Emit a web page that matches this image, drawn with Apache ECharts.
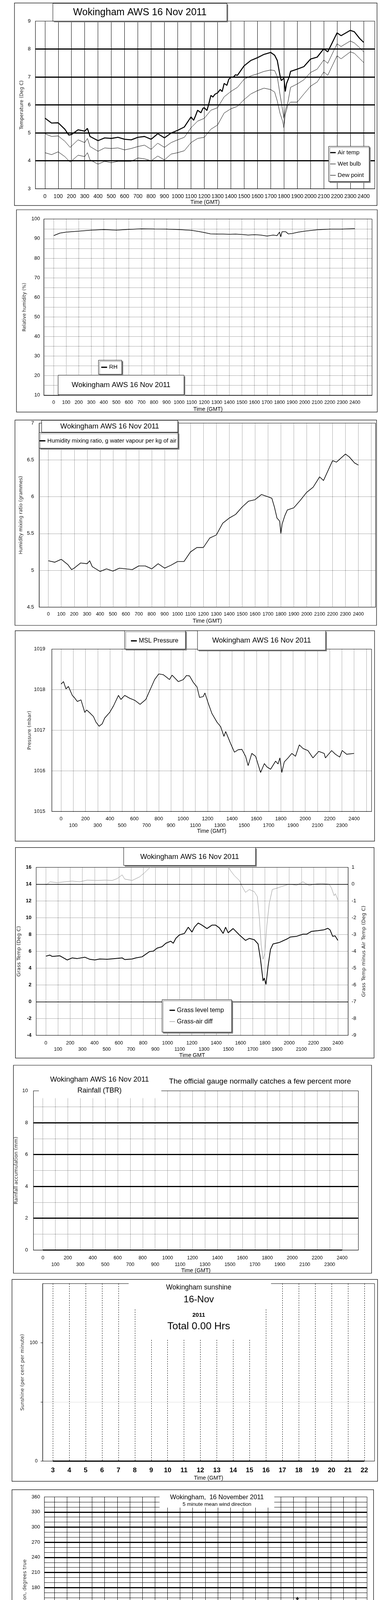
<!DOCTYPE html>
<html><head><meta charset="utf-8">
<script src="https://cdn.jsdelivr.net/npm/echarts@6/dist/echarts.min.js"></script>
<style>html,body{margin:0;padding:0;background:#fff}#a{position:absolute;left:0;top:0;width:1000px;height:2720px}#b{position:absolute;left:0;top:2720px;width:1000px;height:2280px}</style>
</head><body><div id="a"></div><div id="b"></div>
<script>
// ---------------- DATA ----------------
const timeTicks = [0,100,200,300,400,500,600,700,800,900,1000,1100,1200,1300,1400,1500,1600,1700,1800,1900,2000,2100,2200,2300,2400];
const timeTicks2500 = [0,100,200,300,400,500,600,700,800,900,1000,1100,1200,1300,1400,1500,1600,1700,1800,1900,2000,2100,2200,2300,2400,2500];
const sunHourTicks = [3,4,5,6,7,8,9,10,11,12,13,14,15,16,17,18,19,20,21,22];
const dayHourTicks = [0,1,2,3,4,5,6,7,8,9,10,11,12,13,14,15,16,17,18,19,20,21,22,23,24];
const speedHourLabels = ['00:00','01:00','02:00','03:00','04:00','05:00','06:00','07:00','08:00','09:00','10:00','11:00','12:00','13:00','14:00','15:00','16:00','17:00','18:00','19:00','20:00','21:00','22:00','23:00'];

const airTemp = [[0,5.53],[50,5.35],[100,5.36],[150,5.13],[180,4.92],[200,4.94],[250,5.11],[300,5.06],[320,5.16],[340,4.87],[400,4.72],[450,4.82],[500,4.80],[550,4.84],[600,4.77],[650,4.75],[700,4.84],[750,4.87],[800,4.77],[850,4.97],[900,4.82],[950,4.99],[1000,5.09],[1050,5.21],[1100,5.57],[1120,5.45],[1135,5.62],[1150,5.81],[1175,5.72],[1190,5.88],[1200,5.90],[1220,5.80],[1235,6.05],[1250,6.34],[1265,6.28],[1280,6.38],[1300,6.43],[1320,6.55],[1335,6.48],[1350,6.77],[1370,6.70],[1385,6.92],[1400,6.99],[1420,7.00],[1435,7.08],[1450,7.06],[1500,7.40],[1550,7.59],[1600,7.69],[1650,7.81],[1700,7.88],[1730,7.78],[1750,7.59],[1770,7.06],[1780,6.87],[1800,6.96],[1810,6.48],[1820,6.77],[1840,7.01],[1850,7.20],[1900,7.28],[1950,7.37],[2000,7.64],[2050,7.71],[2100,8.01],[2130,7.90],[2200,8.58],[2230,8.48],[2300,8.67],[2330,8.62],[2370,8.38],[2400,8.24]];
const wetBulb = [[0,4.97],[50,4.87],[100,4.89],[150,4.70],[190,4.48],[250,4.75],[300,4.65],[320,4.80],[340,4.51],[400,4.34],[450,4.46],[500,4.44],[550,4.46],[600,4.39],[650,4.44],[700,4.51],[750,4.56],[800,4.41],[850,4.63],[900,4.48],[950,4.65],[1000,4.75],[1050,4.84],[1100,5.18],[1150,5.42],[1200,5.52],[1250,5.81],[1300,5.90],[1350,6.29],[1400,6.48],[1450,6.63],[1500,6.92],[1550,7.04],[1600,7.11],[1650,7.20],[1700,7.25],[1730,7.23],[1750,7.01],[1770,6.39],[1790,5.81],[1800,5.52],[1810,5.81],[1830,6.10],[1850,6.63],[1900,6.75],[1950,6.90],[2000,7.16],[2050,7.28],[2100,7.61],[2130,7.49],[2200,8.19],[2230,8.09],[2300,8.29],[2330,8.22],[2370,8.05],[2400,7.90]];
const dewPoint = [[0,4.29],[50,4.22],[100,4.32],[150,4.15],[190,3.95],[250,4.20],[300,4.15],[320,4.29],[340,4.03],[400,3.88],[450,3.98],[500,3.93],[550,3.98],[600,3.98],[650,3.98],[700,4.10],[750,4.07],[800,4.00],[850,4.17],[900,4.03],[950,4.24],[1000,4.29],[1050,4.36],[1100,4.65],[1150,4.80],[1200,4.84],[1250,5.13],[1300,5.28],[1350,5.71],[1400,5.86],[1450,5.95],[1500,6.19],[1550,6.39],[1600,6.51],[1650,6.60],[1700,6.55],[1730,6.46],[1750,6.14],[1770,5.71],[1790,5.42],[1800,5.18],[1810,5.66],[1830,6.00],[1850,6.10],[1900,6.10],[1950,6.39],[2000,6.67],[2050,6.82],[2100,7.18],[2130,7.06],[2200,7.76],[2230,7.65],[2300,7.90],[2330,7.85],[2370,7.66],[2400,7.52]];

const relHumidity = [[0,91.5],[50,92.8],[100,93.3],[200,93.8],[300,94.3],[400,94.6],[500,94.3],[600,94.7],[700,95.0],[800,94.9],[900,94.85],[1000,94.6],[1100,94.2],[1150,93.7],[1200,93.1],[1250,92.4],[1300,92.3],[1350,92.3],[1400,92.2],[1450,92.3],[1500,92.1],[1550,91.8],[1600,92.0],[1650,91.8],[1700,91.3],[1750,91.8],[1780,91.5],[1800,93.3],[1810,90.9],[1820,93.5],[1850,93.5],[1870,92.4],[1900,92.6],[1950,93.3],[2000,93.8],[2100,94.5],[2200,94.85],[2300,94.85],[2400,95.1]];

const mixingRatio = [[0,5.13],[50,5.11],[100,5.15],[150,5.08],[180,5.01],[200,5.03],[250,5.10],[300,5.09],[320,5.13],[340,5.05],[400,4.985],[450,5.02],[500,4.99],[550,5.03],[600,5.02],[650,5.01],[700,5.06],[750,5.06],[800,5.02],[850,5.09],[900,5.03],[950,5.07],[1000,5.12],[1050,5.12],[1100,5.25],[1150,5.31],[1200,5.31],[1250,5.44],[1300,5.48],[1350,5.64],[1400,5.71],[1450,5.76],[1500,5.86],[1550,5.94],[1600,5.96],[1650,6.03],[1700,6.00],[1730,5.98],[1750,5.86],[1770,5.71],[1790,5.67],[1800,5.50],[1810,5.63],[1830,5.74],[1850,5.82],[1900,5.85],[1950,5.95],[2000,6.06],[2050,6.13],[2100,6.27],[2130,6.22],[2200,6.49],[2230,6.47],[2300,6.58],[2330,6.54],[2370,6.46],[2400,6.43]];

const mslPressure = [[0,1018.14],[20,1018.2],[40,1018.02],[60,1018.08],[92,1017.86],[108,1017.81],[133,1017.71],[163,1017.75],[194,1017.44],[210,1017.5],[235,1017.43],[265,1017.34],[286,1017.2],[312,1017.1],[337,1017.16],[357,1017.3],[398,1017.44],[429,1017.6],[470,1017.86],[490,1017.76],[521,1017.86],[562,1017.79],[603,1017.74],[647,1017.64],[694,1017.76],[725,1017.97],[766,1018.25],[800,1018.39],[837,1018.37],[888,1018.25],[909,1018.36],[960,1018.2],[1001,1018.25],[1027,1018.35],[1052,1018.34],[1083,1018.18],[1113,1018.07],[1134,1017.81],[1164,1017.83],[1178,1017.92],[1205,1017.67],[1236,1017.41],[1277,1017.2],[1307,1017.09],[1334,1016.85],[1348,1016.97],[1389,1016.67],[1420,1016.46],[1450,1016.52],[1481,1016.53],[1511,1016.36],[1532,1016.13],[1562,1016.43],[1593,1016.36],[1634,1015.96],[1665,1016.18],[1685,1016.1],[1716,1016.04],[1757,1016.24],[1777,1016.17],[1792,1016.32],[1808,1015.96],[1828,1016.22],[1859,1016.32],[1890,1016.43],[1920,1016.36],[1951,1016.64],[1982,1016.55],[2022,1016.5],[2063,1016.32],[2110,1016.48],[2155,1016.43],[2165,1016.32],[2216,1016.5],[2247,1016.41],[2282,1016.34],[2302,1016.5],[2339,1016.41],[2400,1016.43]];

const grassTemp = [[0,5.42],[33,5.55],[53,5.39],[115,5.47],[176,4.97],[217,5.22],[258,5.14],[320,5.30],[361,5.05],[402,4.97],[443,5.09],[504,5.05],[566,5.14],[627,5.22],[648,5.02],[709,5.09],[740,5.22],[791,5.35],[852,5.97],[883,6.02],[914,6.38],[955,6.55],[986,6.96],[1027,7.21],[1047,6.96],[1068,7.54],[1098,7.96],[1139,8.13],[1170,8.87],[1201,8.29],[1221,8.87],[1252,9.37],[1283,9.12],[1324,8.71],[1365,9.12],[1395,9.12],[1426,8.79],[1457,8.13],[1477,8.87],[1498,8.21],[1539,8.71],[1590,7.96],[1641,7.30],[1672,7.54],[1713,7.38],[1744,6.88],[1764,5.05],[1785,2.48],[1795,2.81],[1809,2.06],[1826,4.22],[1846,6.22],[1867,6.88],[1918,7.05],[1980,7.46],[2010,7.71],[2061,7.79],[2113,8.04],[2143,8.04],[2184,8.38],[2236,8.46],[2287,8.57],[2318,8.74],[2336,8.54],[2357,7.79],[2377,7.84],[2400,7.30]];
const grassAirDiff = [[0,-0.07],[33,0.14],[94,0.09],[156,0.14],[217,0.18],[279,0.14],[340,0.24],[422,0.22],[484,0.24],[545,0.22],[586,0.33],[627,0.55],[648,0.30],[709,0.22],[770,0.43],[811,0.68],[852,0.97],[873,1.09],[950,1.5],[1100,1.8],[1300,1.6],[1420,1.3],[1498,1.05],[1518,0.80],[1549,0.51],[1590,0.22],[1621,-0.24],[1641,-0.49],[1672,-0.32],[1713,-0.45],[1738,-0.74],[1754,-1.98],[1770,-3.64],[1785,-4.47],[1799,-4.14],[1816,-2.48],[1836,-1.15],[1861,-0.32],[1898,-0.24],[1939,-0.14],[2000,0.0],[2061,-0.07],[2113,0.14],[2164,-0.09],[2205,0.0],[2266,0.05],[2328,0.0],[2348,-0.24],[2369,-0.69],[2379,-0.57],[2400,-0.94]];

const rainAccum = [[0,0],[100,0],[200,0],[300,0],[400,0],[500,0],[600,0],[700,0],[800,0],[900,0],[1000,0],[1100,0],[1200,0],[1300,0],[1400,0],[1500,0],[1600,0],[1700,0],[1800,0],[1900,0],[2000,0],[2100,0],[2200,0],[2300,0],[2400,0]];
const sunshine = [[3,0],[4,0],[5,0],[6,0],[7,0],[8,0],[9,0],[10,0],[11,0],[12,0],[13,0],[14,0],[15,0],[16,0],[17,0],[18,0],[19,0],[20,0],[21,0],[22,0]];

const windDirection = [[0.14,85],[0.24,82],[0.34,79],[0.44,85],[0.50,92],[0.54,103],[0.63,93],[0.73,92],[0.87,79],[0.93,74],[1.03,77],[1.19,78],[1.27,92],[1.35,102],[1.43,79],[1.53,74],[1.67,67],[1.83,77],[1.92,78],[2.02,77],[2.12,74],[2.22,81],[2.32,89],[2.42,106],[2.52,79],[2.58,71],[2.72,68],[2.82,66],[2.92,67],[3.06,63],[3.21,57],[3.31,66],[3.45,67],[3.61,68],[3.71,61],[3.81,70],[3.91,66],[4.01,82],[4.11,88],[4.17,110],[4.31,79],[4.40,78],[4.50,101],[4.60,118],[4.70,113],[4.80,100],[4.90,104],[5.00,107],[5.06,86],[5.16,96],[5.30,91],[5.40,131],[5.50,109],[5.60,93],[5.69,96],[5.83,104],[5.93,85],[6.03,82],[6.15,86],[6.19,70],[6.39,71],[6.49,59],[6.59,46],[6.69,41],[6.79,46],[6.88,49],[6.98,55],[7.08,56],[7.14,34],[7.26,43],[7.38,70],[7.48,70],[7.58,74],[7.68,70],[7.82,84],[7.94,61],[8.08,75],[8.17,67],[8.25,63],[8.33,56],[8.43,49],[8.53,56],[8.61,73],[8.67,39],[8.77,25],[8.83,23],[8.93,32],[9.01,53],[9.09,49],[9.17,41],[9.27,61],[9.37,68],[9.46,61],[9.56,49],[9.66,70],[9.76,71],[9.86,66],[10.0,42],[10.06,66],[10.20,79],[10.32,79],[10.40,75],[10.52,71],[10.62,59],[10.71,59],[10.79,61],[10.91,79],[10.99,109],[11.07,99],[11.15,78],[11.25,73],[11.35,68],[11.45,89],[11.51,114],[11.63,104],[11.75,104],[11.79,85],[11.85,100],[12.0,84],[12.10,95],[12.18,91],[12.26,74],[12.34,121],[12.44,113],[12.54,92],[12.64,82],[12.74,79],[12.84,99],[12.94,82],[13.04,93],[13.10,113],[13.17,95],[13.27,82],[13.39,88],[13.49,92],[13.63,89],[13.73,77],[13.85,73],[13.97,64],[14.05,79],[14.17,77],[14.27,82],[14.37,74],[14.48,95],[14.62,85],[14.72,111],[14.78,82],[14.88,81],[15.02,95],[15.12,75],[15.22,78],[15.32,102],[15.42,117],[15.52,102],[15.62,118],[15.67,92],[15.77,106],[15.87,88],[16.01,86],[16.11,78],[16.21,79],[16.31,84],[16.41,89],[16.51,104],[16.61,104],[16.71,110],[16.81,95],[16.90,92],[17.00,93],[17.10,77],[17.20,71],[17.30,77],[17.36,111],[17.46,104],[17.54,96],[17.66,95],[17.74,85],[17.84,114],[17.90,86],[18.04,96],[18.13,109],[18.23,102],[18.33,115],[18.45,113],[18.59,110],[18.69,124],[18.79,115],[18.93,132],[19.01,125],[19.09,115],[19.21,122],[19.33,158],[19.44,135],[19.54,128],[19.64,122],[19.74,113],[19.84,131],[19.92,128],[20.04,113],[20.14,107],[20.28,100],[20.38,92],[20.44,113],[20.58,109],[20.67,107],[20.77,106],[20.87,97],[20.97,133],[21.07,56],[21.17,81],[21.27,96],[21.37,109],[21.47,109],[21.59,115],[21.67,124],[21.79,97],[21.87,106],[21.96,97],[22.06,66],[22.16,64],[22.26,74],[22.36,75],[22.46,61],[22.56,68],[22.66,81],[22.76,100],[22.86,92],[22.98,85],[23.06,92],[23.15,84],[23.25,92],[23.37,77],[23.45,42],[23.55,56],[23.65,7],[23.75,13],[23.85,32],[23.95,52]];

const meanSpeed = [[0.0,3.0],[0.15,5.3],[0.4,4.8],[0.5,3.8],[0.7,4.3],[0.9,5.1],[1.2,4.9],[1.5,5.3],[1.8,6.1],[2.0,4.3],[2.2,5.3],[2.4,4.8],[2.6,3.3],[2.8,4.5],[3.0,5.3],[3.2,5.1],[3.5,4.3],[3.8,3.3],[4.0,2.5],[4.3,2.2],[4.6,2.5],[5.0,3.5],[5.3,3.0],[5.6,2.7],[6.0,2.5],[6.3,3.0],[6.6,2.5],[7.0,2.2],[7.3,2.5],[7.6,3.3],[7.9,2.7],[8.1,2.0],[8.4,2.7],[8.7,3.3],[9.0,3.8],[9.3,3.3],[9.6,3.8],[10.0,3.3],[10.4,3.5],[10.8,3.8],[11.2,4.3],[11.4,2.5],[11.7,3.5],[12.0,3.8],[12.4,3.3],[12.7,4.3],[13.0,3.3],[13.3,4.0],[13.6,3.5],[14.0,4.8],[14.3,3.8],[14.6,4.5],[15.0,4.0],[15.3,5.1],[15.6,3.0],[16.0,4.0],[16.3,5.1],[16.6,3.5],[17.0,4.5],[17.3,4.3],[17.6,3.5],[18.0,4.5],[18.3,3.8],[18.6,4.8],[19.0,5.8],[19.3,5.1],[19.6,4.3],[20.0,3.5],[20.3,3.3],[20.6,2.7],[20.9,1.7],[21.0,1.2],[21.2,3.5],[21.5,3.8],[21.8,3.5],[22.0,2.5],[22.3,2.7],[22.6,2.7],[22.9,3.3],[23.2,2.5],[23.5,1.4],[23.8,2.0],[24.0,2.5]];
const maxGust = [[0.0,7.1],[0.1,10.0],[0.2,7.1],[0.35,8.7],[0.5,5.3],[0.65,8.2],[0.8,6.1],[0.95,9.2],[1.1,6.4],[1.3,9.7],[1.45,6.6],[1.6,9.5],[1.7,10.7],[1.85,7.1],[2.0,8.4],[2.1,5.8],[2.3,9.2],[2.45,5.1],[2.6,3.5],[2.75,8.9],[2.9,6.6],[3.05,8.7],[3.2,6.4],[3.35,8.2],[3.55,5.3],[3.75,4.0],[3.9,5.1],[4.05,3.5],[4.2,5.3],[4.35,3.3],[4.5,5.8],[4.65,4.0],[4.8,6.1],[4.95,6.6],[5.1,4.3],[5.25,5.8],[5.4,3.5],[5.55,5.3],[5.7,3.0],[5.85,5.1],[6.0,3.5],[6.15,5.1],[6.3,4.3],[6.45,5.3],[6.6,3.5],[6.75,5.1],[6.9,3.3],[7.05,4.3],[7.2,3.0],[7.35,5.1],[7.5,3.8],[7.65,5.3],[7.8,3.5],[7.95,2.7],[8.1,2.5],[8.25,4.3],[8.4,5.6],[8.55,3.8],[8.7,5.8],[8.85,4.3],[9.0,6.6],[9.15,4.5],[9.3,6.9],[9.45,4.8],[9.6,6.9],[9.75,4.5],[9.9,6.6],[10.05,4.3],[10.2,6.9],[10.35,4.8],[10.5,6.4],[10.65,4.5],[10.8,6.6],[10.95,5.1],[11.1,6.6],[11.25,4.8],[11.4,3.3],[11.55,5.6],[11.7,4.3],[11.85,7.1],[12.0,4.8],[12.15,6.6],[12.3,4.5],[12.45,6.1],[12.6,4.3],[12.75,6.9],[12.9,4.5],[13.05,6.4],[13.2,4.3],[13.35,6.6],[13.5,5.1],[13.65,6.4],[13.8,4.3],[13.95,6.9],[14.1,5.3],[14.25,6.6],[14.4,4.8],[14.55,6.9],[14.7,5.1],[14.85,6.4],[15.0,5.1],[15.15,6.6],[15.3,6.4],[15.45,4.3],[15.6,3.5],[15.75,5.3],[15.9,4.0],[16.05,6.4],[16.2,10.5],[16.35,6.9],[16.5,5.1],[16.65,6.4],[16.8,4.3],[16.95,6.1],[17.1,5.1],[17.25,6.9],[17.4,4.3],[17.55,5.8],[17.7,3.8],[17.85,6.4],[18.0,5.1],[18.15,6.6],[18.3,4.8],[18.45,7.1],[18.6,9.7],[18.75,7.4],[18.9,9.2],[19.05,7.1],[19.2,10.2],[19.35,6.1],[19.5,7.6],[19.65,5.1],[19.8,6.4],[19.95,4.3],[20.1,5.6],[20.25,3.5],[20.4,5.1],[20.55,3.3],[20.7,4.3],[20.85,2.5],[21.0,1.4],[21.15,5.1],[21.3,6.9],[21.45,4.3],[21.6,5.6],[21.75,3.8],[21.9,4.8],[22.05,2.0],[22.2,3.8],[22.35,5.3],[22.5,3.5],[22.65,4.5],[22.8,3.5],[22.95,4.8],[23.1,3.8],[23.25,4.3],[23.4,3.0],[23.55,1.7],[23.7,2.7],[23.85,3.0],[24.0,2.7]];
const lowSpeedX10 = [[0.00,33.5],[0.00,31.9],[0.00,32.4],[0.00,35.5],[0.08,38.5],[0.37,39.2],[0.37,37.3],[0.37,36.1],[0.37,35.0],[0.46,39.7],[0.46,38.1],[0.46,36.8],[0.56,39.9],[0.56,37.6],[0.56,36.3],[0.56,35.5],[2.45,39.9],[2.45,38.9],[2.45,37.3],[2.45,36.8],[2.55,33.7],[2.55,32.4],[2.55,30.9],[2.55,30.4],[2.55,29.3],[2.68,37.6],[2.68,32.4],[2.68,31.1],[2.68,29.1],[2.74,35.0],[3.26,39.7],[3.26,39.2],[3.26,37.6],[3.26,36.6],[3.36,35.5],[3.36,34.8],[3.36,33.2],[3.36,32.4],[3.36,29.9],[3.80,38.1],[3.80,36.3],[3.80,34.8],[3.80,32.7],[3.90,30.6],[3.90,30.1],[3.90,28.8],[3.90,27.3],[3.90,27.0],[3.90,25.7],[4.07,23.7],[4.07,23.1],[4.07,22.4],[4.07,23.9],[4.19,24.2],[4.19,22.1],[4.32,33.5],[4.32,32.4],[4.32,31.4],[4.32,30.4],[4.32,28.8],[4.32,27.8],[4.32,26.8],[4.32,24.7],[4.32,23.7],[4.52,31.9],[4.52,30.6],[4.52,29.3],[4.52,27.3],[4.52,25.7],[4.52,24.2],[4.52,23.1],[4.67,27.8],[4.67,26.8],[4.67,24.9],[4.67,23.7],[4.81,37.3],[4.81,34.5],[4.81,32.2],[4.81,29.9],[4.81,26.0],[4.81,24.7],[4.90,39.7],[4.90,38.6],[4.90,37.1],[5.10,39.2],[5.10,38.1],[5.10,36.6],[5.10,35.5],[5.10,34.0],[5.29,37.3],[5.29,36.1],[5.29,32.4],[5.29,30.4],[5.29,29.3],[5.29,27.3],[5.29,25.7],[5.29,23.7],[5.48,35.0],[5.48,33.0],[5.48,31.9],[5.48,29.6],[5.48,28.3],[5.48,26.8],[5.48,25.2],[5.64,39.2],[5.64,36.1],[5.64,33.0],[5.64,29.3],[5.64,27.3],[5.77,24.2],[5.77,23.7],[5.77,23.1],[5.97,24.4],[5.97,23.9],[5.97,25.7],[6.10,28.8],[6.10,27.8],[6.10,26.8],[6.22,28.3],[6.22,26.5],[6.22,25.2],[6.35,34.5],[6.35,33.5],[6.35,31.9],[6.35,30.4],[6.35,28.8],[6.49,29.9],[6.49,28.8],[6.49,27.8],[6.49,26.5],[6.49,24.2],[6.64,29.1],[6.64,26.0],[6.64,24.7],[6.64,23.7],[6.74,23.4],[6.74,21.6],[6.74,21.1],[6.74,19.0],[6.87,23.9],[6.87,22.6],[6.87,21.6],[7.03,24.7],[7.03,23.7],[7.03,22.1],[7.03,21.1],[7.18,25.7],[7.18,24.7],[7.32,30.4],[7.32,28.8],[7.32,27.3],[7.41,34.0],[7.41,33.0],[7.41,31.9],[7.41,34.5],[7.51,38.1],[7.51,37.6],[7.51,36.6],[7.61,38.6],[7.61,35.5],[7.61,34.5],[7.72,32.4],[7.72,30.9],[7.72,29.3],[7.72,28.3],[7.84,33.0],[7.84,31.9],[7.84,30.9],[7.95,33.2],[7.95,26.2],[7.95,24.7],[7.95,23.7],[8.09,22.1],[8.09,20.6],[8.09,19.0],[8.09,18.5],[8.19,18.0],[8.19,19.0],[8.19,21.1],[8.19,23.1],[8.30,25.2],[8.30,23.7],[8.30,27.3],[8.46,33.0],[8.46,31.9],[8.57,35.5],[8.57,37.1],[8.69,39.2],[8.69,38.6],[8.69,37.6],[8.69,36.3],[8.80,38.1],[8.80,36.6],[8.80,35.0],[8.96,36.6],[8.96,34.0],[8.96,31.9],[9.07,30.9],[9.07,29.3],[9.07,27.8],[9.07,25.2],[9.19,33.0],[9.19,30.4],[9.19,28.8],[9.34,37.6],[9.34,36.1],[9.34,34.0],[9.34,31.9],[9.50,38.1],[9.50,36.1],[9.50,33.5],[9.50,30.9],[9.50,28.8],[9.63,35.0],[9.63,32.4],[9.63,30.4],[9.63,29.3],[9.79,39.7],[9.79,38.6],[9.79,37.6],[9.92,39.2],[9.92,37.1],[9.92,35.0],[10.06,34.0],[10.06,32.4],[10.06,30.9],[10.06,29.3],[10.21,36.1],[10.21,34.0],[10.21,31.9],[10.21,30.4],[10.37,37.6],[10.37,35.0],[10.37,33.5],[10.50,37.1],[10.50,36.1],[10.50,34.5],[10.50,33.0],[10.66,36.6],[10.66,35.0],[10.79,38.1],[10.79,36.1],[10.93,39.2],[10.93,37.6],[11.08,39.9],[11.08,39.4],[11.22,39.7],[11.27,36.6],[11.27,34.5],[11.37,31.1],[11.37,29.9],[11.37,28.3],[11.37,27.3],[11.51,28.8],[11.51,26.8],[11.51,24.7],[11.51,22.6],[11.51,21.3],[11.66,30.9],[11.66,28.3],[11.66,25.5],[11.78,37.6],[11.78,36.1],[11.78,34.0],[11.78,32.4],[11.95,39.7],[11.95,38.1],[11.95,36.6],[11.95,35.0],[12.14,37.1],[12.14,35.5],[12.14,34.0],[12.28,35.0],[12.28,33.0],[12.28,31.9],[12.43,38.1],[12.43,36.6],[12.43,34.0],[12.43,32.4],[12.59,35.0],[12.59,33.5],[12.59,31.4],[12.59,30.4],[12.72,31.9],[12.72,29.9],[12.72,28.8],[12.88,39.7],[12.88,38.1],[12.88,37.1],[13.01,35.0],[13.01,33.0],[13.01,30.9],[13.01,29.3],[13.17,37.6],[13.17,36.1],[13.17,34.0],[13.32,38.6],[13.32,37.1],[13.32,35.0],[13.47,39.2],[13.47,37.6],[13.47,36.1],[13.47,33.0],[13.63,39.7],[13.63,36.6],[13.75,32.4],[13.75,30.9],[13.75,29.3],[13.88,38.6],[13.88,35.0],[14.36,39.2],[14.36,37.6],[14.36,36.1],[14.52,35.0],[14.52,33.5],[14.52,31.9],[14.67,37.1],[14.67,35.0],[14.67,34.0],[14.83,39.9],[14.83,39.2],[14.83,37.6],[14.98,36.6],[14.98,35.0],[14.98,34.0],[15.14,38.1],[15.14,36.1],[15.14,34.5],[15.29,39.2],[15.29,37.6],[15.29,36.6],[15.48,39.7],[15.48,38.6],[15.48,37.1],[15.48,36.1],[15.62,33.5],[15.62,30.4],[15.62,28.8],[15.62,27.8],[15.75,27.3],[15.75,26.5],[15.75,25.5],[15.91,30.4],[15.91,28.8],[15.91,27.8],[16.06,33.0],[16.06,31.4],[16.06,29.9],[16.22,35.5],[16.22,34.0],[16.37,33.5],[16.37,31.9],[16.37,30.4],[16.49,38.4],[16.49,36.6],[16.60,35.0],[16.60,33.5],[16.60,31.9],[16.60,28.8],[16.76,38.1],[16.76,36.1],[16.87,39.2],[16.87,39.7],[17.03,36.6],[17.03,35.0],[17.18,40.0],[17.18,38.1],[17.30,35.0],[17.30,33.0],[17.30,30.9],[17.45,34.0],[17.45,31.9],[17.61,39.2],[17.61,37.6],[17.61,35.5],[17.74,35.0],[17.74,33.0],[17.74,31.4],[17.74,29.3],[17.74,27.8],[17.90,31.9],[17.90,30.4],[18.03,38.1],[18.03,36.6],[18.19,35.0],[18.19,34.0],[18.19,33.0],[18.32,32.4],[18.32,30.9],[18.46,39.9],[18.46,37.1],[18.46,36.1],[18.61,39.7],[18.61,39.2],[18.61,35.5],[18.61,32.4],[18.61,30.6],[18.76,39.4],[18.76,37.1],[19.48,39.9],[19.48,38.9],[19.86,39.4],[19.86,35.0],[19.86,33.5],[20.00,37.6],[20.00,36.1],[20.00,34.0],[20.00,32.4],[20.15,36.1],[20.15,33.5],[20.15,31.4],[20.31,38.9],[20.31,35.5],[20.44,34.5],[20.44,32.4],[20.44,30.4],[20.44,28.8],[20.44,27.3],[20.44,25.7],[20.44,23.7],[20.64,33.0],[20.64,30.9],[20.64,28.8],[20.64,26.8],[20.77,33.5],[20.77,32.4],[20.77,30.4],[20.89,31.9],[20.89,28.8],[20.89,26.8],[20.89,25.2],[21.00,24.7],[21.00,21.6],[21.00,20.1],[21.00,18.5],[21.00,16.9],[21.12,15.4],[21.12,13.8],[21.12,12.8],[21.12,11.8],[21.12,11.0],[21.24,20.6],[21.24,18.5],[21.24,16.4],[21.24,22.1],[21.35,28.8],[21.35,27.3],[21.35,31.9],[21.47,39.2],[21.47,37.6],[21.47,35.5],[21.47,35.0],[21.60,36.1],[21.60,37.6],[21.60,37.1],[21.74,37.1],[21.74,35.0],[21.85,34.5],[21.85,33.0],[21.85,29.9],[21.99,26.2],[21.99,24.7],[21.99,23.7],[22.12,25.7],[22.12,24.2],[22.12,23.1],[22.28,25.2],[22.28,22.6],[22.28,20.6],[22.41,28.8],[22.41,27.8],[22.41,26.2],[22.57,24.2],[22.57,22.6],[22.57,21.6],[22.70,23.7],[22.70,22.1],[22.70,21.1],[22.86,32.4],[22.86,31.4],[22.86,30.4],[22.86,27.8],[22.86,24.7],[23.01,28.8],[23.01,27.3],[23.01,25.2],[23.15,28.3],[23.15,26.8],[23.15,24.7],[23.15,23.7],[23.28,22.6],[23.28,21.6],[23.28,21.1],[23.44,21.6],[23.44,17.5],[23.44,15.9],[23.59,14.4],[23.59,13.3],[23.59,12.3],[23.59,16.2],[23.73,18.0],[23.73,16.4],[23.73,15.9],[23.82,20.6],[23.82,19.5],[23.82,21.6],[23.92,24.7],[23.92,23.7],[23.92,22.6]];

// ---------------- BUILD ----------------
const F = '"Liberation Sans", Arial, Helvetica, sans-serif';
const FV = '"DejaVu Sans", Verdana, sans-serif';
const DOT = {color:'#000', width:1, type:[1,2]};
const SOLID = {color:'#000', width:1, type:'solid'};
let option, G, OFF = 0;
function newOption(off){ OFF = off; option = {animation:false, backgroundColor:'#ffffff', grid:[], xAxis:[], yAxis:[], series:[], legend:[], graphic:{elements:[]}}; G = option.graphic.elements; }
const str = v => ''+v;

function addGrid(l,t,r,b){ option.grid.push({left:l, top:t-OFF, width:r-l, height:b-t, show:true, borderColor:'#000', borderWidth:1, backgroundColor:'rgba(0,0,0,0)', containLabel:false, outerBoundsMode:'none'}); return option.grid.length-1; }
function addX(gi,min,max,o){
  option.xAxis.push({type:'value', gridIndex:gi, min:min, max:max, position:'bottom',
    axisLine:{show:true, onZero:false, lineStyle:{color:'#000',width:1}},
    axisTick:{show:false, customValues:o.ticks},
    splitLine:{show:true, showMinLine:true, showMaxLine:true, lineStyle:o.split},
    axisLabel:{show:true, customValues:o.labels, formatter:o.fmt||str, margin:o.margin, fontSize:o.fs, fontFamily:F, fontWeight:o.fw||'normal', color:'#000', lineHeight:o.lh||(o.fs+2), verticalAlign:'top', hideOverlap:false},
    name:o.name, nameLocation:'middle', nameGap:o.gap, nameMoveOverlap:false,
    nameTextStyle:{fontSize:14, fontFamily:F, color:'#000'}});
  return option.xAxis.length-1;
}
function addY(gi,min,max,o){
  option.yAxis.push({type:'value', gridIndex:gi, min:min, max:max, interval:o.interval, position:o.pos||'left',
    axisLine:{show:true, onZero:false, lineStyle:{color:'#000',width:1}},
    axisTick:o.tick||{show:false},
    splitLine:o.split?{show:true, showMinLine:false, showMaxLine:false, lineStyle:o.split}:{show:false},
    axisLabel:{show:true, customValues:o.labels, formatter:o.fmt||str, margin:o.margin, fontSize:o.fs||13, fontFamily:F, fontWeight:o.fw||'normal', color:'#000', hideOverlap:false},
    name:o.name, nameLocation:'middle', nameGap:o.gap, nameMoveOverlap:false,
    nameTextStyle:{fontSize:o.nfs||12.5, fontFamily:FV, color:'#222'}});
  return option.yAxis.length-1;
}
function line(name,xi,yi,data,w,color,extra){ option.series.push(Object.assign({type:'line', name:name, xAxisIndex:xi, yAxisIndex:yi, data:data, symbol:'none', showSymbol:false, lineStyle:{color:color, width:w}, itemStyle:{color:color}, z:3, silent:true}, extra||{})); }
function frame(x1,y1,x2,y2){ G.push({type:'rect', z:50, silent:true, shape:{x:x1,y:y1-OFF,width:x2-x1,height:y2-y1}, style:{fill:null, stroke:'#000', lineWidth:1.2}}); }
function box(x1,y1,x2,y2){ G.push({type:'rect', z:60, silent:true, shape:{x:x1+3,y:y1+3-OFF,width:x2-x1,height:y2-y1}, style:{fill:'#7f7f7f'}});
  G.push({type:'rect', z:61, silent:true, shape:{x:x1,y:y1-OFF,width:x2-x1,height:y2-y1}, style:{fill:'#fff', stroke:'#000', lineWidth:1}}); }
function white(x1,y1,x2,y2){ G.push({type:'rect', z:55, silent:true, shape:{x:x1,y:y1-OFF,width:x2-x1,height:y2-y1}, style:{fill:'#fff'}}); }
function txt(x,y,s,size,o){ o=o||{}; G.push({type:'text', z:70, silent:true, x:x, y:y-OFF, style:{text:s, fontSize:size, fontFamily:o.ff||F, fontWeight:o.fw||'normal', fill:'#000', align:o.align||'center', verticalAlign:'middle'}}); }
function legendBox(o){ o.top = o.top-OFF; option.legend.push(Object.assign({show:true, selectedMode:false, z:100, backgroundColor:'#fff', borderColor:'#000', borderWidth:1, borderRadius:0, shadowColor:'#7f7f7f', shadowBlur:0, shadowOffsetX:3, shadowOffsetY:3, inactiveColor:'#000'}, o)); }
const evenOdd = v => (Math.round(v/100)%2===1 ? '\n'+v : ''+v);
const THICK = 'path://M0,0H14V3H0Z', THIN = 'path://M0,0H14V1.2H0Z';

// ======== CHART A (panels 1-5) ========
newOption(0);
// ---- Panel 1: temperatures ----
frame(37.0,7.6,964.3,526.2);
let g = addGrid(90.6,54.1,958.5,483.1);
let xi = addX(g,-71.3,2484,{ticks:timeTicks, labels:timeTicks, split:SOLID, margin:12, fs:14, name:'Time (GMT)', gap:28});
let yi = addY(g,3,9,{interval:1, split:{color:'#000',width:3}, margin:12, fs:13, name:'Temperature (Deg C)', gap:29, nfs:12});
line('Air temp',xi,yi,airTemp,2.6,'#000');
line('Wet bulb',xi,yi,wetBulb,1,'#000');
line('Dew point',xi,yi,dewPoint,1,'#000');
box(135.2,8.6,580.4,54.1); txt(357.8,32,'Wokingham AWS 16 Nov 2011',25);
legendBox({left:840.6, top:374.7, orient:'vertical', padding:[7,14,7,4], itemGap:11, itemWidth:14, itemHeight:14, textStyle:{fontSize:15, fontFamily:F, color:'#000', lineHeight:18}, data:[{name:'Air temp',icon:THICK},{name:'Wet bulb',icon:THIN},{name:'Dew point',icon:THIN}]});

// ---- Panel 2: RH ----
frame(42.1,537,964.9,1054.8);
g = addGrid(112.2,560.7,951.5,1011.8);
xi = addX(g,-77.6,2537,{ticks:timeTicks2500, labels:timeTicks, split:DOT, margin:11, fs:12.5, name:'Time (GMT)', gap:29});
yi = addY(g,10,100,{interval:5, split:DOT, margin:10, fs:13, fmt:v=>(v%10===0?''+v:''), name:'Relative humidity (%)', gap:43, nfs:11.5});
line('RH',xi,yi,relHumidity,1.6,'#000');
box(148.6,960.5,470.7,1010.4); txt(309.6,986,'Wokingham AWS 16 Nov 2011',18.5);
legendBox({left:251.9, top:922.2, orient:'vertical', padding:[9,11,9,7], itemWidth:15, itemHeight:14, textStyle:{fontSize:15, fontFamily:F, color:'#000', lineHeight:18}, data:[{name:'RH',icon:THICK}]});

// ---- Panel 3: mixing ratio ----
frame(38.3,1075.4,963.0,1601);
g = addGrid(100.1,1083.2,960.5,1554.3);
xi = addX(g,-71.4,2533,{ticks:timeTicks2500, labels:timeTicks, split:DOT, margin:11, fs:12.5, name:'Time (GMT)', gap:29});
yi = addY(g,4.5,7,{interval:0.5, split:DOT, margin:13, fs:13, name:'Humidity mixing ratio (grammes)', gap:40, nfs:12});
line('Humidity mixing ratio, g water vapour per kg of air',xi,yi,mixingRatio,1.6,'#000');
box(106.5,1076,454.7,1106.4); txt(280.6,1091.5,'Wokingham AWS 16 Nov 2011',18.5);
legendBox({left:100.1, top:1107.5, orient:'vertical', padding:[12,4,10,1], itemWidth:15, itemHeight:14, textStyle:{fontSize:15, fontFamily:F, color:'#000', lineHeight:18}, data:[{name:'Humidity mixing ratio, g water vapour per kg of air',icon:THICK}]});

// ---- Panel 4: pressure ----
frame(38.9,1614.6,957.9,2153.3);
g = addGrid(132.7,1661.8,950.3,2077.3);
xi = addX(g,-75.3,2543,{ticks:timeTicks2500, labels:timeTicks, split:DOT, margin:11, fs:13, lh:17, fmt:evenOdd, name:'Time (GMT)', gap:44});
yi = addY(g,1015,1019,{interval:1, split:DOT, margin:17, fs:13, name:'Pressure (mbar)', gap:50, nfs:12.5});
line('MSL Pressure',xi,yi,mslPressure,1.6,'#000');
box(505.1,1614.6,832.9,1664.3); txt(669,1640,'Wokingham AWS 16 Nov 2011',18.5);
legendBox({left:318.9, top:1614.6, orient:'vertical', padding:[17,18,12,16], itemWidth:15, itemHeight:14, textStyle:{fontSize:16, fontFamily:F, color:'#000', lineHeight:18}, data:[{name:'MSL Pressure',icon:THICK}]});

// ---- Panel 5: grass temperature ----
frame(39.5,2169.6,956.6,2708.6);
g = addGrid(92.5,2220.4,890.3,2650.4);
xi = addX(g,-79.7,2484,{ticks:timeTicks, labels:timeTicks, split:DOT, margin:12, fs:12.5, lh:16, fmt:evenOdd, name:'Time GMT', gap:45});
yi = addY(g,-4,16,{interval:2, split:DOT, margin:12, fs:13, fw:'bold', name:'Grass Temp (Deg C)', gap:37, nfs:13});
let yr = addY(g,-9,1,{interval:1, pos:'right', margin:9, fs:13, name:'Grass Temp minus Air Temp (Deg C)', gap:34, nfs:13});
line('Grass level temp',xi,yi,grassTemp,2,'#000',{markLine:{silent:true, symbol:['none','none'], label:{show:false}, lineStyle:{color:'#000',width:1.5,type:'solid'}, emphasis:{disabled:true}, data:[{yAxis:14},{yAxis:0}]}});
line('Grass-air diff',xi,yr,grassAirDiff,1,'#8c8c8c');
box(316.3,2169.6,653.7,2215.4); txt(485,2193.5,'Wokingham AWS 16 Nov 2011',18.5);
legendBox({left:414.5, top:2559.3, orient:'vertical', padding:[18,20,18,19], itemGap:11, itemWidth:14, itemHeight:14, textStyle:{fontSize:16, fontFamily:F, color:'#000', lineHeight:18}, data:[{name:'Grass level temp',icon:THICK},{name:'Grass-air diff',icon:THIN}]});

echarts.init(document.getElementById('a'), null, {renderer:'canvas', width:1000, height:2720}).setOption(option);

// ======== CHART B (panels 6-9) ========
newOption(2720);
// ---- Panel 6: rainfall ----
frame(34.4,2727,950.3,3259.5);
g = addGrid(85.5,2792.6,916.5,3200.2);
xi = addX(g,-75.9,2530,{ticks:timeTicks, labels:timeTicks, split:DOT, margin:12, fs:12.5, lh:17, fmt:evenOdd, name:'Time (GMT)', gap:46});
yi = addY(g,0,10,{interval:1, split:DOT, margin:14, fs:13, fmt:v=>(v%2===0?''+v:''), name:'Rainfall accumulation (mm)', gap:37, nfs:12.5});
line('Rainfall',xi,yi,rainAccum,3,'#000',{markLine:{silent:true, symbol:['none','none'], label:{show:false}, lineStyle:{color:'#000',width:3,type:'solid'}, emphasis:{disabled:true}, data:[{yAxis:2},{yAxis:4},{yAxis:6},{yAxis:8}]}});
white(99.5,2728,412.6,2811.2);
txt(254.5,2764,'Wokingham AWS 16 Nov 2011',18.5);
txt(254.5,2792,'Rainfall (TBR)',18);
txt(665,2769,'The official gauge normally catches a few percent more',19);

// ---- Panel 7: sunshine ----
frame(30.6,3275.4,965.6,3792.1);
g = addGrid(109.1,3286,957.9,3740.4);
xi = addX(g,2.378,22.622,{ticks:sunHourTicks, labels:sunHourTicks, split:{color:'#000',width:1,type:[3,3]}, margin:14, fs:17, fw:'bold', name:'Time (GMT)', gap:37});
yi = addY(g,0,150,{split:{color:'#999',width:1,type:[1,2]}, tick:{show:true, customValues:[0,50,100], length:5, lineStyle:{color:'#000'}}, labels:[0,100], margin:13, fs:12, name:'Sunshine (per cent per minute)', gap:45, nfs:12.5});
line('Sunshine',xi,yi,sunshine,3,'#000');
white(329,3276.5,693.2,3351); white(360,3350,665,3427);
txt(508.3,3296,'Wokingham sunshine',17.5);
txt(508.3,3327,'16-Nov',24);
txt(508.3,3367,'2011',15,{fw:'bold'});
txt(508.3,3396,'Total 0.00 Hrs',26);

// ---- Panel 8: wind direction ----
frame(30.6,3813.6,955.4,4345.7);
g = addGrid(113.5,3832.1,938.8,4296.4);
xi = addX(g,-0.793,24.874,{ticks:dayHourTicks, labels:dayHourTicks, split:SOLID, margin:12, fs:13, name:'Time (GMT)', gap:30});
yi = addY(g,0,360,{interval:10, split:SOLID, margin:11, fs:13, fmt:v=>(v%30===0?''+v:''), name:'Direction, degrees true', gap:43, nfs:12.5});
option.series.push({type:'scatter', name:'Wind direction', xAxisIndex:xi, yAxisIndex:yi, data:windDirection, symbol:'diamond', symbolSize:[8,10], itemStyle:{color:'#000'}, z:4, silent:true,
  markLine:{silent:true, symbol:['none','none'], label:{show:false}, lineStyle:{color:'#000',width:3,type:'solid'}, emphasis:{disabled:true}, data:[{yAxis:30},{yAxis:60},{yAxis:90},{yAxis:120},{yAxis:150},{yAxis:180},{yAxis:210},{yAxis:240},{yAxis:270},{yAxis:300},{yAxis:330}]}});
white(408.2,3831,701.5,3859.5);
txt(554.9,3833,'Wokingham,  16 November 2011',16.5);
txt(554.9,3851.5,'5 minute mean wind direction',13.5);

// ---- Panel 9: wind speed ----
frame(29.3,4352.9,956.6,4867.3);
g = addGrid(87.4,4396.7,937.5,4791.8);
xi = addX(g,-0.751,24.99,{ticks:dayHourTicks, labels:dayHourTicks.slice(0,24), split:DOT, margin:13, fs:12.5, lh:15, fmt:v=>(v%2===1?'\n'+speedHourLabels[v]:speedHourLabels[v]), name:'Time (GMT)', gap:46});
yi = addY(g,0,50,{interval:5, split:DOT, margin:13, fs:13, fmt:v=>(v%10===0?''+v:''), name:'Speed (knots)', gap:38, nfs:12.5});
line('Max gust',xi,yi,maxGust,1,'#555');
line('Speed x 1',xi,yi,meanSpeed,2.2,'#000');
option.series.push({type:'scatter', name:'Speed / 10', xAxisIndex:xi, yAxisIndex:yi, data:lowSpeedX10, symbol:'diamond', symbolSize:[9,10], itemStyle:{color:'#c6c6c6', borderColor:'#333', borderWidth:0.8}, z:4, silent:true});
white(434,4394.5,700,4398.5);
txt(261.5,4376.5,'Wokingham,  16 November 2011',19);
txt(572,4365,'Wind speed, 10 min mean / max gust',14);
txt(572,4382.5,'Speeds below 4 kt shown at x10 scale',14);
txt(950.3,4792.6,'0',12,{ff:'"DejaVu Serif", serif', fw:'bold'});
legendBox({left:727, top:4358, orient:'horizontal', padding:[6,33,4,31], itemGap:18, itemWidth:10, itemHeight:10, textStyle:{fontSize:12, fontFamily:F, color:'#000', lineHeight:14}, data:[{name:'Speed x 1',icon:'path://M0,0H10V3H0Z'},{name:'Speed / 10',icon:'diamond'}]});

echarts.init(document.getElementById('b'), null, {renderer:'canvas', width:1000, height:2280}).setOption(option);
</script></body></html>
